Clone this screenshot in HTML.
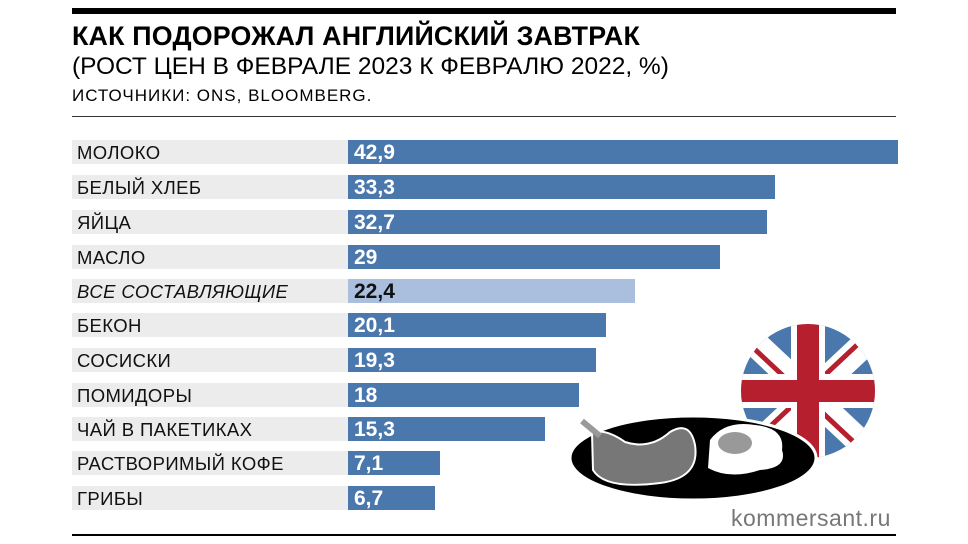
<!DOCTYPE html>
<html><head><meta charset="utf-8"><style>
body{margin:0;background:#fff;width:968px;height:544px;position:relative;overflow:hidden;font-family:"Liberation Sans",sans-serif;}
.a{position:absolute}
.row{position:absolute;left:72px;width:276px;height:24px;background:#ececec;font-size:18.5px;line-height:25px;color:#111;padding-left:5px;box-sizing:border-box;letter-spacing:0.4px}
.bar{position:absolute;left:348px;height:24px;background:#4a78ad;color:#fff;font-size:21px;font-weight:bold;line-height:25px;padding-left:6px;box-sizing:border-box}
</style></head><body>
<div class="a" style="left:72px;top:8px;width:824px;height:6px;background:#000"></div>
<div class="a" style="left:72px;top:21px;font-size:26.8px;font-weight:bold;letter-spacing:0.2px">КАК ПОДОРОЖАЛ АНГЛИЙСКИЙ ЗАВТРАК</div>
<div class="a" style="left:72px;top:53px;font-size:24.5px">(РОСТ ЦЕН В ФЕВРАЛЕ 2023 К ФЕВРАЛЮ 2022, %)</div>
<div class="a" style="left:72px;top:86px;font-size:17px;letter-spacing:1px">ИСТОЧНИКИ: ONS, BLOOMBERG.</div>
<div class="a" style="left:72px;top:116px;width:824px;height:1px;background:#333"></div>

<div class="row" style="top:140px">МОЛОКО</div><div class="bar" style="top:140px;width:550px">42,9</div>
<div class="row" style="top:175px">БЕЛЫЙ ХЛЕБ</div><div class="bar" style="top:175px;width:427px">33,3</div>
<div class="row" style="top:210px">ЯЙЦА</div><div class="bar" style="top:210px;width:419px">32,7</div>
<div class="row" style="top:245px">МАСЛО</div><div class="bar" style="top:245px;width:372px">29</div>
<div class="row" style="top:279px;font-style:italic">ВСЕ СОСТАВЛЯЮЩИЕ</div><div class="bar" style="top:279px;width:287px;background:#aabedd;color:#111">22,4</div>
<div class="row" style="top:313px">БЕКОН</div><div class="bar" style="top:313px;width:258px">20,1</div>
<div class="row" style="top:348px">СОСИСКИ</div><div class="bar" style="top:348px;width:248px">19,3</div>
<div class="row" style="top:383px">ПОМИДОРЫ</div><div class="bar" style="top:383px;width:231px">18</div>
<div class="row" style="top:417px">ЧАЙ В ПАКЕТИКАХ</div><div class="bar" style="top:417px;width:197px">15,3</div>
<div class="row" style="top:451px">РАСТВОРИМЫЙ КОФЕ</div><div class="bar" style="top:451px;width:92px">7,1</div>
<div class="row" style="top:486px">ГРИБЫ</div><div class="bar" style="top:486px;width:87px">6,7</div>

<svg class="a" style="left:560px;top:320px" width="340" height="200" viewBox="0 0 340 200">
<defs><clipPath id="c"><circle cx="248" cy="71" r="67"/></clipPath></defs>
<g clip-path="url(#c)">
<rect x="170" y="0" width="160" height="150" fill="#4a78ad"/>
<path d="M170 0L330 150M330 0L170 150" stroke="#fff" stroke-width="26"/>
<path d="M170 6L330 156M330 -6L170 144" stroke="#b51f2e" stroke-width="5"/>
<rect x="170" y="54" width="160" height="34" fill="#fff"/><rect x="231" y="0" width="34" height="150" fill="#fff"/>
<rect x="170" y="60" width="160" height="22" fill="#b51f2e"/><rect x="237" y="0" width="22" height="150" fill="#b51f2e"/>
</g>
<ellipse cx="133" cy="138" rx="123" ry="42" fill="#000" stroke="#fff" stroke-width="3"/>
<path d="M150 120 Q165 100 195 105 Q225 108 222 130 Q228 148 200 150 Q170 160 148 148Z" fill="#fff"/>
<ellipse cx="175" cy="123" rx="17" ry="11" fill="#999"/>
<path d="M32 113 Q45 108 65 122 Q90 130 110 112 Q130 100 135 125 Q140 158 100 163 Q45 170 33 150Z" fill="#777" stroke="#fff" stroke-width="2"/>
<path d="M22 101L40 116" stroke="#999" stroke-width="6"/>
</svg>
<div class="a" style="left:731px;top:505px;font-size:23px;color:#777;letter-spacing:0.5px">kommersant.ru</div>
<div class="a" style="left:72px;top:534px;width:824px;height:2px;background:#000"></div>
</body></html>
